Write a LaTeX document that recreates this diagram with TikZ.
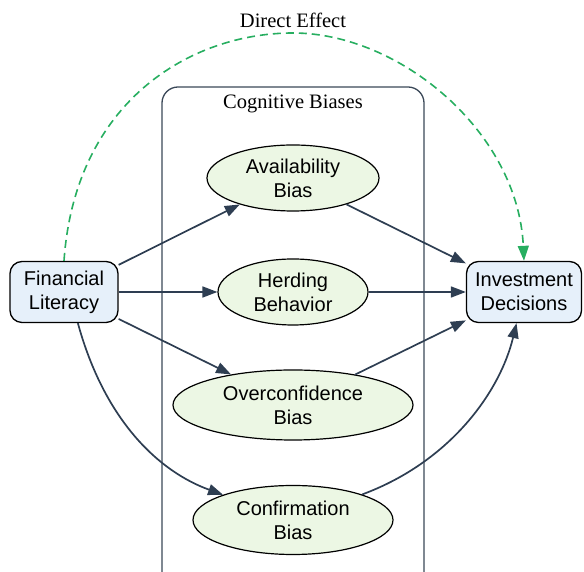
\documentclass[tikz,border=0pt]{standalone}
\usepackage{fontspec}
\setmainfont{Liberation Serif}
\setsansfont{Liberation Sans}
\usetikzlibrary{shapes,positioning,arrows.meta}
\definecolor{boxfill}{HTML}{E6F0FA}
\definecolor{biasfill}{HTML}{ECF7E4}
\definecolor{linkcol}{HTML}{2E3E52}
\definecolor{clustcol}{HTML}{3A4858}
\definecolor{directcol}{HTML}{27AE60}

\begin{document}
\begin{tikzpicture}[
    x=1pt, y=1pt,
    box/.style ={
        rectangle,
        rounded corners=12pt,
        draw=black,
        line width=1.3pt,
        fill=boxfill,
        minimum height=61pt,
        inner sep=0pt,
        align=center,
        font=\sffamily\fontsize{20}{24}\selectfont
    },
    bias/.style ={
        ellipse,
        draw=black,
        line width=1.2pt,
        fill=biasfill,
        inner sep=0pt,
        align=center,
        font=\sffamily\fontsize{20}{24}\selectfont
    },
    link/.style ={
        draw=linkcol,
        line width=1.7pt,
        -{Triangle[length=15pt,width=11pt]}
    },
    direct/.style ={
        draw=directcol,
        line width=1.6pt,
        dash pattern=on 8pt off 5pt,
        -{Triangle[length=15pt,width=11pt]}
    },
    label/.style ={
        font=\rmfamily\fontsize{20.5}{24}\selectfont
    }
    ]

    \useasboundingbox (0,0) rectangle (584,572);

    % cluster box, cut off at the bottom
    \begin{scope}
        \clip (0,0) rectangle (584,572);
        \draw[clustcol, line width=1.3pt, rounded corners=16pt] (162,-20) rectangle (424,485);
    \end{scope}
    \node[label] (clust) at (293,468) {Cognitive Biases};

    \node[box, minimum width=108pt] (fin) at (64,280) {Financial\\Literacy};
    \node[box, minimum width=115pt] (invest) at (524,280) {Investment\\Decisions};

    \node[bias, minimum width=172pt, minimum height=66pt] (avail) at (293,394) {Availability\\Bias};
    \node[bias, minimum width=150pt, minimum height=66pt] (herd) at (293,280) {Herding\\Behavior};
    \node[bias, minimum width=240pt, minimum height=70pt] (over) at (293,167) {Overconfidence\\Bias};
    \node[bias, minimum width=200pt, minimum height=69pt] (conf) at (293,52) {Confirmation\\Bias};

    \foreach \src/ \dst in {fin/avail, fin/herd, fin/over, avail/invest, herd/invest, over/invest}
        \draw[link] (\src) -- (\dst);

    \draw[link] (fin.-66) .. controls (105,150) and (160,100) .. (conf);
    \draw[link] (conf) .. controls (450,110) and (500,180) .. (invest);

    % direct path over the top
    \coordinate (peak) at (293,539);
    \draw[direct] (fin.north) .. controls (75,470) and (190,539) .. (peak)
        .. controls (400,539) and (518,440) .. (invest.north);
    \node[label] (effect) at (293,552) {Direct Effect};
\end{tikzpicture}
\end{document}
